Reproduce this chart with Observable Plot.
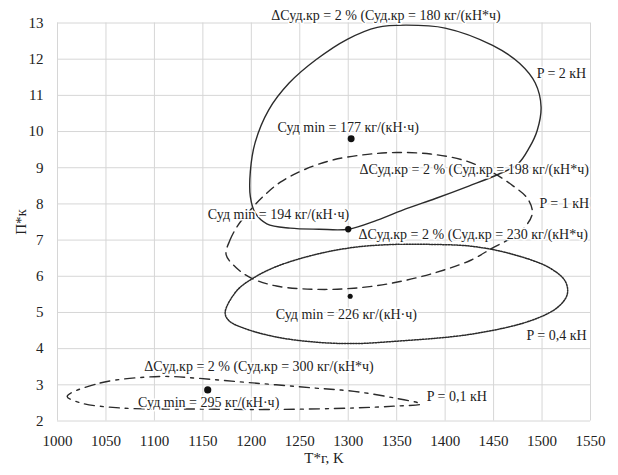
<!DOCTYPE html>
<html>
<head>
<meta charset="utf-8">
<script src="https://cdn.jsdelivr.net/npm/d3@7"></script>
<script src="https://cdn.jsdelivr.net/npm/@observablehq/plot@0.6"></script>
<style>
  html, body { margin: 0; padding: 0; background: #fff; }
  #chart { width: 618px; height: 475px; }
</style>
</head>
<body>
<div id="chart"></div>
<script>
// Axis ticks
const xTicks = [1000, 1050, 1100, 1150, 1200, 1250, 1300, 1350, 1400, 1450, 1500, 1550];
const yTicks = [2, 3, 4, 5, 6, 7, 8, 9, 10, 11, 12, 13];

// Contour P = 2 кН (solid)
const p2T = [1300, 1270, 1240, 1216, 1204, 1199, 1199, 1204, 1218, 1239, 1267, 1299, 1330, 1360, 1400, 1449, 1477, 1493, 1499, 1495, 1487, 1475, 1455, 1425, 1390, 1360, 1330];
const p2P = [7.3, 7.3, 7.33, 7.45, 7.75, 8.2, 8.9, 9.7, 10.6, 11.34, 11.99, 12.55, 12.88, 12.94, 12.86, 12.38, 11.88, 11.34, 10.68, 10.03, 9.56, 9.1, 8.82, 8.5, 8.15, 7.87, 7.55];

// Contour P = 1 кН (dashed)
const p1T = [1174, 1178, 1186, 1198, 1212, 1230, 1255, 1285, 1320, 1350, 1385, 1420, 1450, 1470, 1485, 1490, 1482, 1468, 1450, 1427, 1390, 1347, 1306, 1266, 1226, 1200, 1185];
const p1P = [6.6, 7.0, 7.4, 7.8, 8.2, 8.6, 8.95, 9.22, 9.37, 9.42, 9.38, 9.2, 8.85, 8.5, 8.15, 7.75, 7.35, 7.05, 6.8, 6.45, 6.1, 5.82, 5.67, 5.64, 5.73, 5.95, 6.22];

// Contour P = 0,4 кН (dotted)
const p04T = [1173, 1185, 1202, 1226, 1266, 1306, 1347, 1387, 1427, 1468, 1508, 1524, 1526, 1516, 1488, 1427, 1347, 1306, 1266, 1226, 1194, 1177];
const p04P = [5.0, 5.6, 5.95, 6.27, 6.6, 6.8, 6.88, 6.88, 6.83, 6.62, 6.23, 5.86, 5.5, 5.14, 4.77, 4.4, 4.2, 4.14, 4.18, 4.32, 4.55, 4.77];

// Contour P = 0,1 кН (dash-dot)
const p01T = [1010, 1044, 1105, 1145, 1185, 1266, 1306, 1347, 1375, 1347, 1306, 1226, 1145, 1065, 1024];
const p01P = [2.68, 3.05, 3.23, 3.18, 3.09, 2.91, 2.82, 2.64, 2.47, 2.41, 2.36, 2.32, 2.33, 2.36, 2.5];

// Minimum points
const minT = [1303, 1300, 1302, 1155];
const minP = [9.8, 7.3, 5.45, 2.86];
const minR = [2.8, 2.3, 1.5, 3.0];

// Annotations
const labelText = [
  "ΔСуд.кр = 2 % (Суд.кр = 180 кг/(кН*ч)",
  "Суд min = 177 кг/(кН·ч)",
  "ΔСуд.кр = 2 % (Суд.кр = 198 кг/(кН*ч)",
  "P = 2 кН",
  "P = 1 кН",
  "Суд min = 194 кг/(кН·ч)",
  "ΔСуд.кр = 2 % (Суд.кр = 230 кг/(кН*ч)",
  "Суд min = 226 кг/(кН·ч)",
  "P = 0,4 кН",
  "ΔСуд.кр = 2 % (Суд.кр = 300 кг/(кН*ч)",
  "Суд min = 295 кг/(кН·ч)",
  "P = 0,1 кН"
];
const labelT = [1339, 1300, 1430, 1520, 1523, 1228, 1429, 1298, 1515, 1208, 1156, 1412];
const labelP = [13.2, 10.12, 8.96, 11.6, 8.0, 7.72, 7.15, 4.95, 4.36, 3.5, 2.5, 2.68];

const rows = (T, P) => T.map((t, i) => ({t, p: P[i]}));
const minRows = minT.map((t, i) => ({t, p: minP[i], r: minR[i]}));
const labelRows = labelText.map((s, i) => ({s, t: labelT[i], p: labelP[i]}));

const ink = "#2b2b2b";
const serif = "Liberation Serif";

const chart = Plot.plot({
  width: 618,
  height: 475,
  marginLeft: 57,
  marginRight: 28,
  marginTop: 22.5,
  marginBottom: 54.5,
  style: {fontSize: "14px", fontFamily: serif, color: "#222", background: "#fff"},
  x: {domain: [1000, 1550], ticks: xTicks},
  y: {domain: [2, 13], ticks: yTicks},
  marks: [
    Plot.gridX(xTicks, {stroke: "#d6d6d6", strokeOpacity: 1, strokeWidth: 1}),
    Plot.gridY(yTicks, {stroke: "#d6d6d6", strokeOpacity: 1, strokeWidth: 1}),
    Plot.axisX(xTicks, {tickSize: 0, tickPadding: 14, fontSize: 15, fontFamily: serif, tickFormat: d => String(d), label: "T*г, K", labelAnchor: "center", labelOffset: 42, labelArrow: "none"}),
    Plot.axisY(yTicks, {tickSize: 0, tickPadding: 14, fontSize: 15, fontFamily: serif, tickFormat: d => String(d), label: "П*к", labelAnchor: "center", labelOffset: 42, labelArrow: "none"}),
    Plot.line(rows(p04T, p04P), {x: "t", y: "p", curve: "catmull-rom-closed", stroke: ink, strokeWidth: 1.5, strokeDasharray: "1.5,1.3"}),
    Plot.line(rows(p01T, p01P), {x: "t", y: "p", curve: "catmull-rom-closed", stroke: ink, strokeWidth: 1.4, strokeDasharray: "10,6,3,6"}),
    Plot.line(rows(p1T, p1P), {x: "t", y: "p", curve: "catmull-rom-closed", stroke: ink, strokeWidth: 1.4, strokeDasharray: "9,6"}),
    Plot.line(rows(p2T, p2P), {x: "t", y: "p", curve: "catmull-rom-closed", stroke: ink, strokeWidth: 1.4}),
    Plot.dot(minRows, {x: "t", y: "p", r: "r", fill: "#111", stroke: "none"}),
    Plot.text(labelRows, {x: "t", y: "p", text: "s", fontSize: 14, fontFamily: serif, fill: "#222", stroke: "white", strokeWidth: 3})
  ]
});
document.getElementById("chart").appendChild(chart);
</script>
</body>
</html>
